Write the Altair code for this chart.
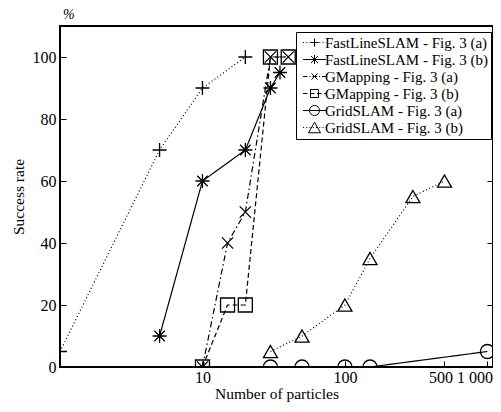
import altair as alt
import pandas as pd

series_names = [
    "FastLineSLAM - Fig. 3 (a)",
    "FastLineSLAM - Fig. 3 (b)",
    "GMapping - Fig. 3 (a)",
    "GMapping - Fig. 3 (b)",
    "GridSLAM - Fig. 3 (a)",
    "GridSLAM - Fig. 3 (b)",
]

fl_a_x = [1, 5, 10, 20]
fl_a_y = [5, 70, 90, 100]
fl_b_x = [5, 10, 20, 30, 35]
fl_b_y = [10, 60, 70, 90, 95]
gm_a_x = [10, 15, 20, 30, 40]
gm_a_y = [0, 40, 50, 100, 100]
gm_b_x = [10, 15, 20, 30, 40]
gm_b_y = [0, 20, 20, 100, 100]
gs_a_x = [30, 50, 100, 150, 1000]
gs_a_y = [0, 0, 0, 0, 5]
gs_b_x = [30, 50, 100, 150, 300, 500]
gs_b_y = [5, 10, 20, 35, 55, 60]

x_ticks = [10, 100, 500, 1000]
y_ticks = [0, 20, 40, 60, 80, 100]

all_x = [fl_a_x, fl_b_x, gm_a_x, gm_b_x, gs_a_x, gs_b_x]
all_y = [fl_a_y, fl_b_y, gm_a_y, gm_b_y, gs_a_y, gs_b_y]
rows = []
for name, xs, ys in zip(series_names, all_x, all_y):
    for xv, yv in zip(xs, ys):
        rows.append({"series": name, "particles": xv, "rate": yv})
df = pd.DataFrame(rows)

FONT = "Liberation Serif"

# styles
dashes = [[1, 2.5], [1, 0], [6, 3, 1.5, 3], [5, 3], [1, 0], [1, 2.5]]
PLUS = "M-1,0L1,0M0,-1L0,1"
AST = "M0,-1L0,1M-1,0L1,0M-0.75,-0.75L0.75,0.75M-0.75,0.75L0.75,-0.75"
XM = "M-0.8,-0.8L0.8,0.8M-0.8,0.8L0.8,-0.8"
marker_shapes = [PLUS, AST, XM, "square", "circle", "triangle-up"]
marker_sizes = [196, 196, 144, 150, 225, 280]


def line_path(pattern, half=2.3):
    if not pattern:
        return "M%.2f,0L%.2f,0" % (-half, half)
    parts = []
    x = -half
    i = 0
    while x < half:
        seg = pattern[i % len(pattern)]
        if i % 2 == 0:
            x2 = min(x + seg, half)
            parts.append("M%.2f,0L%.2f,0" % (x, x2))
        x += seg
        i += 1
    return "".join(parts)


CIRC = "M1,0A1,1,0,1,1,-1,0A1,1,0,1,1,1,0"
TRI = "M0,-1.05L-1.2,1.05L1.2,1.05Z"
SQ = "M-0.8,-0.8L0.8,-0.8L0.8,0.8L-0.8,0.8Z"
dot_pat = [0.2, 0.45]
legend_paths = [
    line_path(dot_pat) + "M-0.8,0L0.8,0M0,-0.8L0,0.8",
    line_path(None) + "M0,-0.9L0,0.9M-0.7,-0.7L0.7,0.7M-0.7,0.7L0.7,-0.7",
    line_path([0.9, 0.4, 0.2, 0.4]) + "M-0.6,-0.6L0.6,0.6M-0.6,0.6L0.6,-0.6",
    line_path([0.9, 0.5]) + SQ,
    line_path(None) + CIRC,
    line_path(dot_pat) + TRI,
]

x_enc = alt.X(
    "particles:Q",
    scale=alt.Scale(type="log", domain=[1, 1095], nice=False),
    axis=alt.Axis(
        values=x_ticks,
        labelExpr="datum.value == 1000 ? '1 000' : format(datum.value, 'd')",
        labelOffset={
            "condition": [
                {"test": "datum.value == 1000", "value": -13},
                {"test": "datum.value == 500", "value": -4},
            ],
            "value": 0,
        },
        title="Number of particles",
        tickSize=alt.ExprRef(expr="-6"),
        labelPadding=8,
        titlePadding=1,
    ),
)
y_scale = alt.Scale(domain=[0, 110], nice=False)
y_left = alt.Y(
    "rate:Q",
    scale=y_scale,
    axis=alt.Axis(
        values=y_ticks,
        orient="left",
        title="Success rate",
        tickSize=alt.ExprRef(expr="-6"),
        labelPadding=10,
        titlePadding=6,
    ),
)
y_right = alt.Y(
    "rate:Q",
    scale=y_scale,
    axis=alt.Axis(
        values=y_ticks,
        orient="right",
        title=None,
        labels=False,
        tickSize=alt.ExprRef(expr="-6"),
    ),
)
y_none = alt.Y("rate:Q", scale=y_scale, axis=None)

lines = alt.Chart(df).mark_line(color="black", strokeWidth=1.2, clip=True).encode(
    x=x_enc,
    y=y_left,
    strokeDash=alt.StrokeDash(
        "series:N",
        scale=alt.Scale(domain=series_names, range=dashes),
        legend=None,
    ),
    order="particles:Q",
)

points = alt.Chart(df).mark_point(
    color="black", filled=False, strokeWidth=1.3, opacity=1, clip=True
).encode(
    x=x_enc,
    y=y_right,
    shape=alt.Shape(
        "series:N",
        scale=alt.Scale(domain=series_names, range=marker_shapes),
        legend=None,
    ),
    size=alt.Size(
        "series:N",
        scale=alt.Scale(domain=series_names, range=marker_sizes),
        legend=None,
    ),
)

legend_layer = (
    alt.Chart(df)
    .transform_filter("false")
    .transform_calculate(lg="datum.series")
    .mark_point(color="black", filled=False, opacity=1, strokeWidth=1)
    .encode(
        x=x_enc,
        y=y_none,
        shape=alt.Shape(
            "lg:N",
            scale=alt.Scale(domain=series_names, range=legend_paths),
            legend=alt.Legend(
                title=None,
                orient="none",
                legendX=236,
                legendY=6,
                strokeColor="black",
                fillColor="white",
                padding=3,
                symbolSize=100,
                symbolStrokeWidth=1,
                symbolStrokeColor="black",
                symbolFillColor="transparent",
                symbolOffset=8,
                labelOffset=3,
                labelFont=FONT,
                labelFontSize=15,
                labelColor="black",
                rowPadding=1,
                labelLimit=300,
            ),
        ),
    )
)

chart = (
    alt.layer(lines, points, legend_layer)
    .resolve_scale(shape="independent")
    .resolve_axis(y="independent")
    .properties(
        width=433,
        height=341,
        autosize=alt.AutoSizeParams(type="none"),
        padding={"left": 52, "top": 18, "right": 0, "bottom": 37},
        title=alt.TitleParams(
            "%",
            anchor="start",
            frame="group",
            font=FONT,
            fontSize=14,
            fontStyle="italic",
            fontWeight="normal",
            offset=4,
            dx=3,
            color="black",
        ),
    )
    .configure_view(stroke="black", strokeWidth=2)
    .configure_axis(
        domain=False,
        grid=False,
        labelFont=FONT,
        labelFontSize=16,
        labelColor="black",
        titleFont=FONT,
        titleFontSize=15.5,
        titleFontWeight="normal",
        titleColor="black",
        tickColor="black",
        tickWidth=1,
    )
)

chart.save("out.html", embed_options={"renderer": "svg", "actions": False})
